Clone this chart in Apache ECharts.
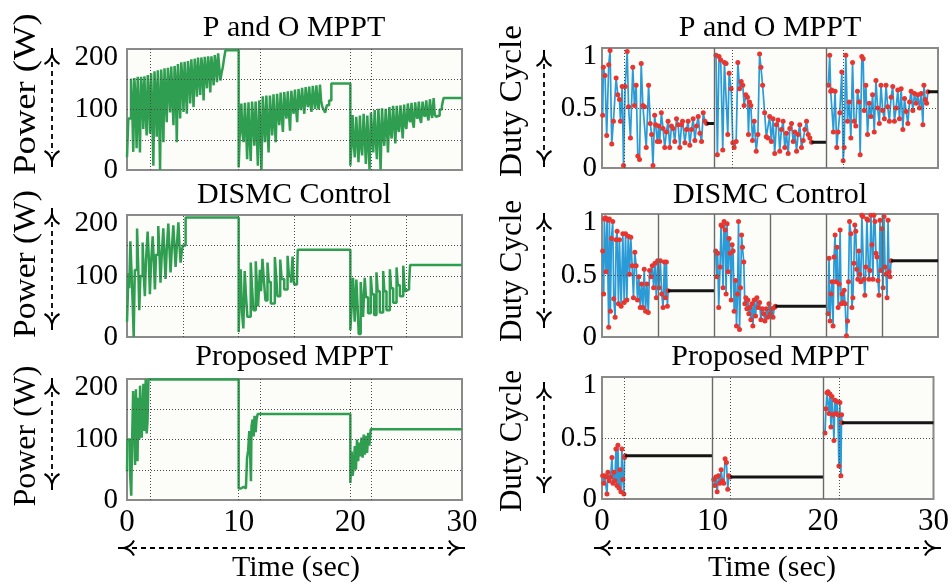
<!DOCTYPE html>
<html>
<head>
<meta charset="utf-8">
<script src="https://cdn.jsdelivr.net/npm/echarts@6/dist/echarts.min.js"></script>
<style>
html, body { margin: 0; padding: 0; background: #ffffff; }
#chart { width: 952px; height: 586px; }
</style>
</head>
<body>
<div id="chart"></div>
<script>
// ---------- P and O MPPT: PV power (W) vs time (s), three irradiance steps ----------
const poPower1 = [[0.00,21],[0.12,85],[0.36,151],[0.46,110],[0.56,30],[0.66,152],[0.76,120],[0.86,36],
  [0.96,154],[1.06,95],[1.16,29],[1.26,154],[1.36,130],[1.46,68],[1.56,155],[1.66,100],[1.76,57],
  [1.86,157],[1.96,120],[2.06,60],[2.16,160],[2.26,100],[2.36,7],[2.46,163],[2.56,125],[2.66,55],
  [2.76,165],[2.86,110],[2.96,0],[3.06,166],[3.16,130],[3.26,46],[3.36,168],[3.46,120],[3.56,79],
  [3.66,169],[3.76,140],[3.86,95],[3.96,171],[4.06,125],[4.16,74],[4.26,172],[4.36,145],[4.46,46],
  [4.56,175],[4.66,135],[4.76,85],[4.86,178],[4.96,150],[5.06,96],[5.16,179],[5.26,140],[5.36,93],
  [5.46,180],[5.56,155],[5.66,110],[5.76,183],[5.86,150],[5.96,104],[6.06,184],[6.16,160],[6.26,121],
  [6.36,186],[6.46,155],[6.56,124],[6.66,186],[6.76,165],[6.86,115],[6.96,187],[7.06,160],[7.16,135],
  [7.26,188],[7.36,170],[7.46,128],[7.56,188],[7.66,165],[7.76,140],[7.86,190],[7.96,172],[8.06,145],
  [8.16,193],[8.26,170],[8.36,148],[8.46,160],[8.58,170],[8.70,185],[8.82,198]];
const poPower2 = [[10.00,4],[10.10,60],[10.24,110],[10.34,60],[10.44,46],[10.56,111],[10.66,70],[10.76,18],
  [10.88,112],[10.98,55],[11.08,15],[11.20,113],[11.30,80],[11.40,40],[11.52,113],[11.62,60],[11.72,7],
  [11.84,115],[11.94,75],[12.04,0],[12.16,122],[12.26,85],[12.36,46],[12.48,123],[12.58,70],[12.68,29],
  [12.80,123],[12.90,90],[13.00,57],[13.12,125],[13.22,80],[13.32,46],[13.44,126],[13.54,95],[13.64,74],
  [13.76,128],[13.86,90],[13.96,63],[14.08,129],[14.18,100],[14.28,85],[14.40,130],[14.50,95],[14.60,65],
  [14.72,131],[14.82,105],[14.92,93],[15.04,133],[15.14,100],[15.24,79],[15.36,134],[15.46,110],[15.56,99],
  [15.68,136],[15.78,108],[15.88,93],[16.00,137],[16.10,115],[16.20,104],[16.32,138],[16.42,110],[16.52,96],
  [16.64,139],[16.74,118],[16.84,101],[16.96,140],[17.06,112],[17.16,100],[17.28,141],[17.38,115],[17.48,105],
  [17.60,100],[17.75,95],[17.90,107],[18.10,115],[18.30,143]];
const poPower3 = [[20.00,7],[20.10,40],[20.20,91],[20.30,45],[20.40,21],[20.53,88],[20.63,50],[20.73,13],
  [20.86,90],[20.96,40],[21.06,24],[21.19,93],[21.29,55],[21.39,10],[21.52,90],[21.62,45],[21.72,0],
  [21.85,95],[21.95,60],[22.05,29],[22.18,99],[22.28,50],[22.38,18],[22.51,101],[22.61,65],[22.71,0],
  [22.84,102],[22.94,60],[23.04,40],[23.17,101],[23.27,70],[23.37,29],[23.50,104],[23.60,65],[23.70,52],
  [23.83,106],[23.93,75],[24.03,44],[24.16,106],[24.26,70],[24.36,63],[24.49,107],[24.59,80],[24.69,52],
  [24.82,108],[24.92,75],[25.02,68],[25.15,110],[25.25,85],[25.35,79],[25.48,111],[25.58,80],[25.68,70],
  [25.81,112],[25.91,90],[26.01,85],[26.14,113],[26.24,85],[26.34,78],[26.47,113],[26.57,92],[26.67,88],
  [26.80,115],[26.90,90],[27.00,82],[27.13,117],[27.23,95],[27.33,86],[27.46,119],[27.56,92],[27.66,88],
  [27.80,90],[28.00,100],[28.20,106],[28.35,119],[30.00,119]];

// ---------- DISMC control: PV power ----------
const dismcPower1 = [[0.00,25],[0.06,60],[0.12,105],[0.20,80],[0.30,157],[0.40,110],[0.50,60],[0.60,0],
  [0.70,110],[0.90,178],[1.00,120],[1.10,44],[1.20,100],[1.40,155],[1.50,100],[1.60,67],[1.70,125],
  [1.85,173],[1.95,130],[2.05,70],[2.15,120],[2.30,165],[2.40,125],[2.50,78],[2.60,135],[2.80,182],
  [2.90,140],[3.00,89],[3.10,130],[3.25,178],[3.35,135],[3.45,95],[3.55,140],[3.70,186],[3.80,145],
  [3.90,106],[4.00,140],[4.15,183],[4.25,150],[4.35,115],[4.45,145],[4.60,188],[4.70,150],[4.80,122],
  [4.90,140],[5.00,150],[5.25,196]];
const dismcPower2 = [[10.00,8],[10.08,60],[10.18,111],[10.30,40],[10.42,14],[10.54,108],[10.65,70],[10.78,33],
  [11.08,122],[11.20,80],[11.32,44],[11.53,124],[11.63,85],[11.74,50],[11.90,110],[12.00,75],[12.13,128],
  [12.25,95],[12.40,60],[12.58,122],[12.70,90],[12.88,55],[13.24,131],[13.36,100],[13.48,67],[13.72,127],
  [13.85,95],[14.08,78],[14.38,133],[14.50,100],[14.68,89],[14.83,132],[14.92,92],[14.98,86],[15.22,92],
  [15.29,143]];
const dismcPower3 = [[20.00,11],[20.12,50],[20.24,97],[20.32,60],[20.39,25],[20.54,94],[20.65,50],[20.75,5],
  [20.93,90],[21.03,60],[21.14,33],[21.29,97],[21.40,65],[21.59,39],[21.83,100],[21.95,70],[22.13,36],
  [22.34,106],[22.45,75],[22.64,40],[22.94,108],[23.05,75],[23.24,44],[23.54,111],[23.65,80],[23.84,56],
  [24.14,114],[24.25,85],[24.44,67],[24.74,117],[24.82,90],[24.89,75],[25.05,78],[25.26,86],[25.35,118],
  [30.00,118]];

// ---------- Proposed MPPT: PV power ----------
const propPower1 = [[0.00,47],[0.05,100],[0.20,100],[0.28,42],[0.38,7],[0.46,100],[0.55,180],[0.65,120],
  [0.72,58],[0.80,183],[0.88,100],[0.94,64],[1.02,169],[1.10,100],[1.17,189],[1.25,140],[1.32,103],
  [1.40,150],[1.47,192],[1.53,114],[1.60,160],[1.68,200],[1.76,110],[1.84,130],[1.92,199]];
const propPower2 = [[10.00,19],[10.20,22],[10.45,19],[10.65,20],[10.75,69],[10.85,82],[10.95,114],[11.02,80],
  [11.10,31],[11.15,122],[11.25,133],[11.35,105],[11.42,139],[11.52,112],[11.60,133],[11.70,142]];
const propPower3 = [[20.00,28],[20.12,80],[20.20,40],[20.30,53],[20.40,89],[20.50,50],[20.60,100],[20.70,64],
  [20.80,95],[20.90,72],[21.00,103],[21.10,70],[21.20,108],[21.30,75],[21.40,106],[21.50,78],[21.60,111],
  [21.70,90],[21.83,117],[30.00,117]];

// ---------- P and O MPPT: duty cycle samples ----------
const poDuty1 = [[0.06,0.44],[0.12,0.84],[0.27,0.77],[0.42,0.27],[0.60,0.86],[0.72,0.98],[0.87,0.20],
  [1.02,0.39],[1.26,0.75],[1.41,0.61],[1.56,0.57],[1.65,0.39],[1.80,0.68],[1.92,0.02],[2.07,0.68],
  [2.25,0.97],[2.37,0.51],[2.54,0.25],[2.75,0.84],[2.90,0.52],[3.05,0.69],[3.20,0.10],[3.35,0.07],
  [3.50,0.87],[3.65,0.52],[3.80,0.51],[3.95,0.17],[4.16,0.69],[4.31,0.37],[4.43,0.28],[4.55,0.02],
  [4.70,0.44],[4.79,0.36],[4.94,0.22],[5.06,0.35],[5.15,0.22],[5.30,0.46],[5.45,0.33],[5.60,0.17],
  [5.75,0.30],[5.90,0.39],[6.05,0.17],[6.20,0.35],[6.35,0.33],[6.50,0.22],[6.65,0.41],[6.80,0.36],
  [6.95,0.17],[7.10,0.36],[7.19,0.39],[7.40,0.21],[7.54,0.32],[7.69,0.39],[7.84,0.19],[7.99,0.32],
  [8.14,0.41],[8.29,0.23],[8.44,0.35],[8.59,0.43],[8.74,0.29],[8.89,0.22],[9.04,0.46],[9.19,0.39],[9.34,0.37]];
const poDuty2 = [[10.18,0.94],[10.30,0.11],[10.45,0.93],[10.60,0.90],[10.78,0.15],[10.93,0.88],[11.08,0.87],
  [11.23,0.28],[11.35,0.79],[11.53,0.66],[11.68,0.21],[11.80,0.17],[11.98,0.22],[12.13,0.88],[12.28,0.66],
  [12.43,0.72],[12.57,0.69],[12.69,0.52],[12.84,0.61],[12.99,0.59],[13.08,0.28],[13.17,0.55],[13.29,0.52],
  [13.44,0.23],[13.59,0.39],[13.77,0.14],[13.92,0.28],[14.07,0.95],[14.19,0.84],[14.34,0.69],[14.52,0.46],
  [14.67,0.26],[14.82,0.25],[14.97,0.43],[15.12,0.22],[15.27,0.41],[15.42,0.12],[15.57,0.36],[15.72,0.40],
  [15.87,0.14],[16.02,0.32],[16.17,0.39],[16.32,0.17],[16.47,0.29],[16.62,0.12],[16.77,0.33],[16.92,0.37],
  [17.07,0.22],[17.22,0.30],[17.37,0.14],[17.51,0.28],[17.66,0.36],[17.81,0.17],[17.96,0.23],[18.11,0.32],
  [18.26,0.39],[18.41,0.28],[18.56,0.25],[18.71,0.215]];
const poDuty3 = [[20.21,0.69],[20.33,0.94],[20.42,0.64],[20.51,0.65],[20.66,0.30],[20.81,0.64],[20.96,0.17],
  [21.08,0.30],[21.23,0.46],[21.41,0.80],[21.53,0.06],[21.62,0.17],[21.77,0.94],[21.92,0.39],[22.07,0.55],
  [22.22,0.25],[22.37,0.88],[22.51,0.39],[22.66,0.35],[22.81,0.64],[22.96,0.55],[23.05,0.11],[23.20,0.93],
  [23.32,0.91],[23.41,0.48],[23.56,0.69],[23.71,0.28],[23.86,0.54],[24.01,0.43],[24.16,0.61],[24.31,0.30],
  [24.46,0.73],[24.61,0.50],[24.76,0.37],[24.91,0.69],[25.06,0.48],[25.21,0.41],[25.36,0.69],[25.51,0.51],
  [25.66,0.39],[25.81,0.59],[25.96,0.68],[26.11,0.39],[26.26,0.50],[26.41,0.65],[26.56,0.41],[26.71,0.66],
  [26.86,0.32],[27.01,0.58],[27.16,0.47],[27.31,0.37],[27.46,0.55],[27.60,0.64],[27.75,0.48],[27.90,0.62],
  [28.05,0.54],[28.20,0.61],[28.35,0.50],[28.50,0.62],[28.65,0.36],[28.74,0.69],[28.86,0.57],[28.98,0.54],
  [29.10,0.635]];
// steady-state duty after tracking: [start s, end s, duty]
const poDutyHold = [[9.34,10,0.37],[18.71,20,0.215],[29.10,30,0.635]];

// ---------- DISMC control: duty cycle samples ----------
const dismcDuty1 = [[0.06,0.70],[0.15,0.35],[0.21,0.96],[0.30,0.97],[0.36,0.53],[0.45,0.96],[0.54,0.95],
  [0.60,0.08],[0.66,0.96],[0.75,0.21],[0.84,0.80],[0.96,0.94],[1.05,0.31],[1.17,0.16],[1.26,0.79],
  [1.35,0.86],[1.47,0.27],[1.56,0.79],[1.71,0.25],[1.86,0.84],[1.98,0.28],[2.10,0.84],[2.22,0.30],
  [2.34,0.82],[2.46,0.51],[2.57,0.81],[2.69,0.58],[2.81,0.32],[2.93,0.69],[3.05,0.58],[3.17,0.30],
  [3.29,0.49],[3.41,0.24],[3.53,0.43],[3.65,0.24],[3.77,0.55],[3.89,0.21],[4.01,0.43],[4.13,0.20],
  [4.25,0.54],[4.37,0.49],[4.49,0.58],[4.61,0.40],[4.73,0.60],[4.85,0.32],[4.97,0.62],[5.09,0.40],
  [5.21,0.62],[5.33,0.35],[5.45,0.24],[5.57,0.61],[5.66,0.32],[5.75,0.61],[5.84,0.25],[5.90,0.377]];
const dismcDuty2 = [[10.15,0.70],[10.24,0.49],[10.33,0.68],[10.42,0.24],[10.54,0.57],[10.63,0.91],[10.72,0.90],
  [10.81,0.40],[10.90,0.94],[10.99,0.87],[11.08,0.35],[11.17,0.92],[11.26,0.53],[11.35,0.80],[11.44,0.68],
  [11.53,0.30],[11.62,0.75],[11.71,0.70],[11.80,0.21],[11.92,0.46],[12.01,0.09],[12.10,0.35],[12.19,0.94],
  [12.28,0.06],[12.37,0.40],[12.46,0.83],[12.54,0.73],[12.66,0.61],[12.75,0.27],[12.84,0.32],[12.93,0.23],
  [13.02,0.30],[13.11,0.19],[13.20,0.24],[13.29,0.14],[13.38,0.27],[13.47,0.09],[13.59,0.30],[13.71,0.17],
  [13.83,0.32],[13.95,0.24],[14.07,0.28],[14.19,0.14],[14.31,0.23],[14.43,0.19],[14.55,0.13],[14.67,0.23],
  [14.79,0.16],[14.91,0.27],[15.03,0.19],[15.15,0.23],[15.27,0.16],[15.39,0.24],[15.48,0.25]];
const dismcDuty3 = [[20.18,0.19],[20.27,0.64],[20.36,0.13],[20.45,0.35],[20.54,0.45],[20.63,0.09],[20.72,0.65],
  [20.81,0.83],[20.90,0.45],[20.99,0.73],[21.08,0.24],[21.17,0.43],[21.26,0.87],[21.35,0.27],[21.44,0.35],
  [21.53,0.28],[21.62,0.38],[21.71,0.27],[21.83,0.01],[21.92,0.13],[22.01,0.45],[22.10,0.94],[22.22,0.84],
  [22.31,0.24],[22.40,0.32],[22.49,0.60],[22.57,0.91],[22.66,0.86],[22.75,0.55],[22.84,0.47],[22.93,0.70],
  [23.02,0.51],[23.11,0.45],[23.20,0.99],[23.29,0.98],[23.38,0.47],[23.47,0.34],[23.56,0.57],[23.65,0.96],
  [23.74,0.95],[23.83,0.47],[23.92,0.54],[24.01,0.99],[24.10,0.75],[24.19,0.47],[24.28,0.99],[24.37,0.94],
  [24.46,0.68],[24.55,0.65],[24.64,0.46],[24.73,0.34],[24.82,0.95],[24.91,0.54],[25.00,0.88],[25.09,0.40],
  [25.18,0.98],[25.27,0.57],[25.36,0.51],[25.45,0.32],[25.54,0.95],[25.63,0.53],[25.72,0.49],[25.81,0.62]];
const dismcDutyHold = [[5.90,10,0.377],[15.48,20,0.25],[25.81,30,0.62]];

// ---------- Proposed MPPT: duty cycle samples ----------
const propDuty1 = [[0.06,0.19],[0.15,0.13],[0.24,0.19],[0.36,0.18],[0.45,0.04],[0.54,0.22],[0.66,0.15],
  [0.78,0.18],[0.90,0.34],[0.99,0.13],[1.08,0.22],[1.17,0.15],[1.26,0.41],[1.35,0.11],[1.44,0.44],
  [1.53,0.09],[1.62,0.24],[1.71,0.06],[1.80,0.41],[1.89,0.16],[1.98,0.04],[2.04,0.34],[2.10,0.355]];
const propDuty2 = [[10.12,0.16],[10.21,0.11],[10.30,0.18],[10.42,0.06],[10.54,0.19],[10.66,0.13],[10.78,0.24],
  [10.90,0.15],[11.02,0.13],[11.14,0.33],[11.26,0.30],[11.38,0.08],[11.47,0.19],[11.59,0.18]];
const propDuty3 = [[20.18,0.54],[20.27,0.74],[20.36,0.87],[20.45,0.88],[20.54,0.70],[20.63,0.86],[20.72,0.59],
  [20.81,0.84],[20.90,0.69],[20.99,0.48],[21.08,0.81],[21.17,0.70],[21.26,0.80],[21.35,0.69],[21.44,0.27],
  [21.53,0.79],[21.62,0.19],[21.68,0.69],[21.71,0.625]];
const propDutyHold = [[2.10,10,0.355],[11.59,20,0.18],[21.71,30,0.625]];

// ---------- axes: ticks and reference lines ----------
const timeTicks = [0, 10, 20, 30];
const powerTicks = [0, 100, 200];
const dutyTicks = [0, 0.5, 1];
const powerGuides = [50, 100, 150];
const dutyGuides = [0.5];
const leftEventTimes = [2.05, 10, 11.9, 20, 21.9];
const rightEventTimes = [2.0, 11.6, 21.5];
const rightStepTimes = [10, 20];
const fiveSecondTimes = [5, 10, 15, 20, 25];

const titles = ['P and O MPPT', 'DISMC Control', 'Proposed MPPT'];

// ---------- styling ----------
const FONT = '"Liberation Serif", "Times New Roman", serif';
const GREEN = '#2f9e50';
const BLUE = '#2a9bd6';
const RED = '#e8352f';
const DOT = { type: [1, 2], color: '#4a4a4a', width: 1 };
const SOLID = { type: 'solid', color: '#6a6a6a', width: 1.4 };

const panels = [
  { left: 127, top: 49, width: 335, height: 121 },
  { left: 127, top: 215, width: 335, height: 122 },
  { left: 127, top: 379, width: 335, height: 121 },
  { left: 602, top: 48, width: 336, height: 120 },
  { left: 602, top: 214, width: 336, height: 123 },
  { left: 602, top: 377, width: 336, height: 122 }
];

const grid = panels.map(p => Object.assign({
  show: true, backgroundColor: '#fcfcf8', borderColor: '#8a8a8a', borderWidth: 2
}, p));

const xAxis = panels.map((p, i) => ({
  gridIndex: i, type: 'value', min: timeTicks[0], max: timeTicks[timeTicks.length - 1],
  interval: timeTicks[1] - timeTicks[0],
  axisLine: { show: false }, axisTick: { show: false }, splitLine: { show: false },
  axisLabel: { show: i === 2 || i === 5, fontSize: 31, fontFamily: FONT, color: '#000', margin: 7 }
}));

function yAxisFor(i, ticks) {
  const max = ticks[ticks.length - 1];
  const isLeft = i < 3;
  const base = { fontSize: 29, fontFamily: FONT, color: '#000' };
  return {
    gridIndex: i, type: 'value', min: ticks[0], max: max, interval: ticks[1] - ticks[0],
    axisLine: { show: false }, axisTick: { show: false }, splitLine: { show: false },
    axisLabel: {
      margin: isLeft ? 9 : 5, fontSize: 29, fontFamily: FONT, color: '#000',
      formatter: v => (v === max ? '{hi|' + v + '}' : '{n|' + v + '}'),
      rich: { hi: Object.assign({ padding: [17, 0, 0, 0] }, base), n: base }
    }
  };
}
const yAxis = [0, 1, 2].map(i => yAxisFor(i, powerTicks))
  .concat([3, 4, 5].map(i => yAxisFor(i, dutyTicks)));

// reference lines drawn behind the traces
function guides(i, vDotted, vSolid, hDotted) {
  const data = [];
  vDotted.forEach(t => data.push({ xAxis: t, lineStyle: DOT }));
  vSolid.forEach(t => data.push({ xAxis: t, lineStyle: SOLID }));
  hDotted.forEach(v => data.push({ yAxis: v, lineStyle: DOT }));
  return {
    type: 'line', xAxisIndex: i, yAxisIndex: i, data: [], silent: true, z: 1,
    markLine: { symbol: ['none', 'none'], silent: true, animation: false, label: { show: false }, data: data }
  };
}

function powerTrace(i, segs) {
  return {
    type: 'line', xAxisIndex: i, yAxisIndex: i, data: [].concat(...segs), step: 'end',
    showSymbol: false, silent: true, z: 3, lineStyle: { color: GREEN, width: 2.5 }
  };
}
function dutyTrace(i, seg) {
  return {
    type: 'line', xAxisIndex: i, yAxisIndex: i, data: seg, symbol: 'circle', symbolSize: 5,
    showSymbol: true, silent: true, z: 3, itemStyle: { color: RED, borderWidth: 0 },
    lineStyle: { color: BLUE, width: 1.7 }
  };
}
function holdTrace(i, h) {
  return {
    type: 'line', xAxisIndex: i, yAxisIndex: i, data: [[h[0], h[2]], [h[1], h[2]]],
    showSymbol: false, silent: true, z: 4, lineStyle: { color: '#151515', width: 3 }
  };
}

const series = [
  guides(0, leftEventTimes, [], powerGuides),
  guides(1, fiveSecondTimes, [], powerGuides),
  guides(2, leftEventTimes, [], powerGuides),
  guides(3, rightEventTimes, rightStepTimes, dutyGuides),
  guides(4, [], fiveSecondTimes, dutyGuides),
  guides(5, rightEventTimes, rightStepTimes, dutyGuides),
  powerTrace(0, [poPower1, poPower2, poPower3]),
  powerTrace(1, [dismcPower1, dismcPower2, dismcPower3]),
  powerTrace(2, [propPower1, propPower2, propPower3])
];
[[3, [poDuty1, poDuty2, poDuty3], poDutyHold],
 [4, [dismcDuty1, dismcDuty2, dismcDuty3], dismcDutyHold],
 [5, [propDuty1, propDuty2, propDuty3], propDutyHold]].forEach(([i, segs, holds]) => {
  segs.forEach(s => series.push(dutyTrace(i, s)));
  holds.forEach(h => series.push(holdTrace(i, h)));
});

// ---------- captions and dashed double arrows ----------
const INK = '#000';
function text(x, y, str, size, rot, sx) {
  return {
    type: 'text', x: x, y: y, rotation: rot || 0, scaleX: sx || 1, silent: true, z: 10,
    style: { text: str, font: size + 'px ' + FONT, fill: INK, align: 'center', verticalAlign: 'middle' }
  };
}
function head(tx, ty, dx, dy) {
  // open curved arrow head: short stem at the tip, two flared barbs behind it
  const px = -dy, py = dx;
  const jx = tx + dx * 6, jy = ty + dy * 6;
  const ex = jx + dx * 10, ey = jy + dy * 10;
  const st = { stroke: INK, lineWidth: 2, fill: 'none' };
  return [
    { type: 'line', silent: true, z: 10, shape: { x1: tx, y1: ty, x2: jx, y2: jy }, style: st },
    { type: 'bezierCurve', silent: true, z: 10,
      shape: { x1: jx, y1: jy, cpx1: jx + dx * 7 + px * 1.5, cpy1: jy + dy * 7 + py * 1.5, x2: ex + px * 7.5, y2: ey + py * 7.5 }, style: st },
    { type: 'bezierCurve', silent: true, z: 10,
      shape: { x1: jx, y1: jy, cpx1: jx + dx * 7 - px * 1.5, cpy1: jy + dy * 7 - py * 1.5, x2: ex - px * 7.5, y2: ey - py * 7.5 }, style: st }
  ];
}
function vArrow(x, y0, y1) {
  return [{ type: 'line', silent: true, z: 10, shape: { x1: x, y1: y0 + 14, x2: x, y2: y1 - 14 },
    style: { stroke: INK, lineWidth: 1.8, lineDash: [5, 4] } }]
    .concat(head(x, y0, 0, 1), head(x, y1, 0, -1));
}
function hArrow(y, x0, x1) {
  return [{ type: 'line', silent: true, z: 10, shape: { x1: x0 + 14, y1: y, x2: x1 - 14, y2: y },
    style: { stroke: INK, lineWidth: 1.8, lineDash: [5, 4] } }]
    .concat(head(x0, y, 1, 0), head(x1, y, -1, 0));
}

const graphic = [
  text(294, 28, titles[0], 30), text(294, 195, titles[1], 30), text(294, 357, titles[2], 30),
  text(770, 28, titles[0], 30), text(770, 195, titles[1], 30), text(770, 357, titles[2], 30),
  text(27, 94, 'Power (W)', 31, Math.PI / 2, 1.18),
  text(27, 264, 'Power (W)', 31, Math.PI / 2, 1.08),
  text(27, 436, 'Power (W)', 31, Math.PI / 2, 1.03),
  text(513, 101, 'Duty Cycle', 31, Math.PI / 2, 1.07),
  text(513, 271, 'Duty Cycle', 31, Math.PI / 2, 1.0),
  text(513, 441, 'Duty Cycle', 31, Math.PI / 2, 1.0),
  text(296, 568, 'Time (sec)', 30), text(772, 568, 'Time (sec)', 30)
].concat(
  vArrow(52, 48, 167), vArrow(52, 208, 330), vArrow(52, 378, 490),
  vArrow(544, 50, 167), vArrow(544, 213, 328), vArrow(544, 382, 493),
  hArrow(548, 118, 465), hArrow(548, 594, 941)
);

const chart = echarts.init(document.getElementById('chart'), null, { renderer: 'canvas' });
chart.setOption({
  animation: false,
  backgroundColor: '#ffffff',
  grid: grid, xAxis: xAxis, yAxis: yAxis, series: series, graphic: graphic
});
</script>
</body>
</html>
